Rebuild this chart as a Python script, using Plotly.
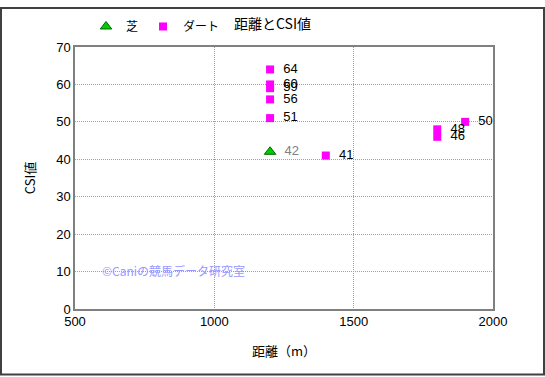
import plotly.graph_objects as go

turf_dist = [1200]
turf_csi = [42]
dirt_dist = [1200, 1200, 1200, 1200, 1200, 1400, 1800, 1800, 1900]
dirt_csi = [64, 60, 59, 56, 51, 41, 48, 46, 50]
x_ticks = [500, 1000, 1500, 2000]
y_ticks = [0, 10, 20, 30, 40, 50, 60, 70]

FONT = "Noto Sans CJK JP, Liberation Sans, sans-serif"
NUMFONT = "Liberation Sans, Arial, sans-serif"

fig = go.Figure()
fig.add_trace(go.Scatter(
    x=turf_dist, y=turf_csi, mode="markers+text", name="芝",
    marker=dict(symbol="triangle-up", size=10, color="#00cc00", line=dict(color="#006600", width=1)),
    text=[str(v) for v in turf_csi], texttemplate="  %{text}", textposition="middle right",
    textfont=dict(color="#808080", size=13, family=NUMFONT),
))
fig.add_trace(go.Scatter(
    x=dirt_dist, y=dirt_csi, mode="markers+text", name="ダート",
    marker=dict(symbol="square", size=8, color="#ff00ff"),
    text=[str(v) for v in dirt_csi], texttemplate="  %{text}", textposition="middle right",
    textfont=dict(color="#000000", size=13, family=NUMFONT),
))

W, H = 545, 377
L, R, T, B = 75, 52, 41, 68
pw, ph = W - L - R, H - T - B

def px(xp):
    return (xp - L) / pw

def py(yp):
    return (H - B - yp) / ph

fig.update_layout(
    width=W, height=H,
    margin=dict(l=L, r=R, t=T, b=B),
    paper_bgcolor="white", plot_bgcolor="white",
    font=dict(family=FONT, size=12, color="#000"),
    title=dict(text="距離とCSI値", x=0.5, xref="container", xanchor="center",
               y=1 - 24 / H, yref="container", yanchor="middle",
               font=dict(size=14, family=FONT, color="#000")),
    showlegend=True,
    legend=dict(orientation="h", x=px(86), y=py(20), xanchor="left", yanchor="middle",
                font=dict(size=12, family=FONT, color="#000"), itemwidth=30,
                bgcolor="rgba(0,0,0,0)", tracegroupgap=0),
    xaxis=dict(range=[500, 2000], tickvals=x_ticks, ticktext=[str(v) for v in x_ticks],
               showgrid=True, gridcolor="#a0a0a0", griddash="1px,1px", gridwidth=1,
               showline=True, linecolor="#808080", linewidth=1.5, mirror=True,
               zeroline=False, ticks="", tickfont=dict(size=13, family=NUMFONT),
               title=dict(text="距離（m）", font=dict(size=13, family=FONT), standoff=19)),
    yaxis=dict(range=[0, 70], tickvals=y_ticks, ticktext=[str(v) for v in y_ticks],
               showgrid=True, gridcolor="#a0a0a0", griddash="1px,1px", gridwidth=1,
               showline=True, linecolor="#808080", linewidth=1.5, mirror=True,
               zeroline=False, ticks="", tickfont=dict(size=13, family=NUMFONT),
               title=dict(text="CSI値", font=dict(size=13, family=FONT), standoff=18)),
    annotations=[dict(text="©Caniの競馬データ研究室", xref="paper", yref="paper",
                      x=px(100), y=py(270), xanchor="left", yanchor="middle",
                      showarrow=False, font=dict(size=12, color="#9999ff", family=FONT))],
    shapes=[dict(type="rect", xref="paper", yref="paper",
                 x0=px(1), x1=px(544), y0=py(376), y1=py(1),
                 line=dict(color="#404040", width=2), layer="below")],
)

fig.write_html("out.html", config={"displayModeBar": False},
               post_script="document.body.style.margin='0';document.body.style.padding='0';")
